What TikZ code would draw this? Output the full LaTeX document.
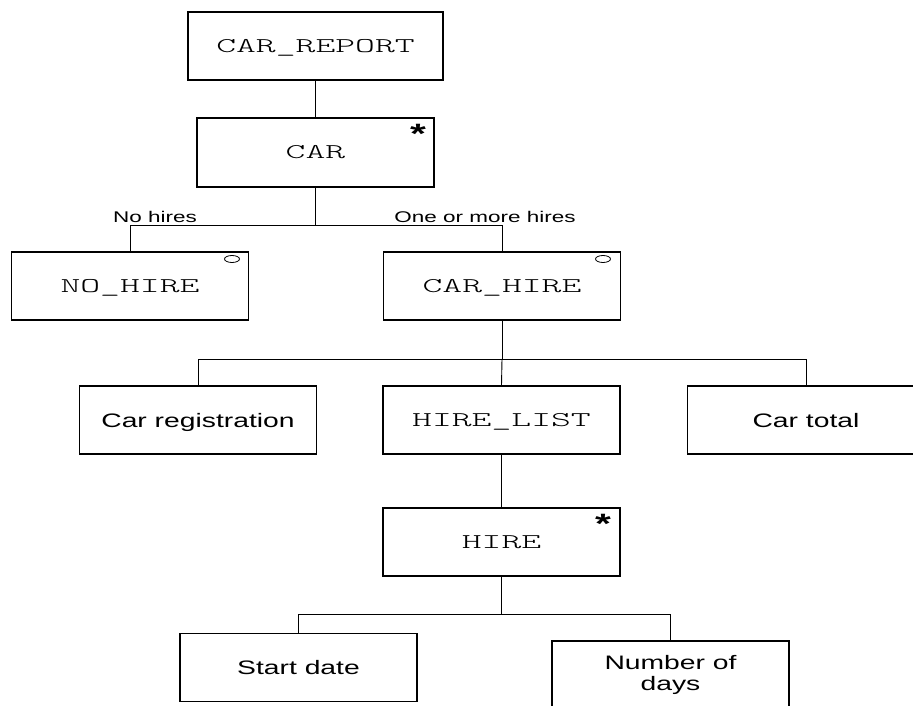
\documentclass[tikz,border=0pt]{standalone}
\usepackage{fontspec}
\usetikzlibrary{shapes.geometric}
\setmainfont{Liberation Sans}[FakeStretch=1.45]
\newfontfamily\boxmono{Latin Modern Mono Light}[FakeStretch=1.8]
\begin{document}
\begin{tikzpicture}[x=1pt,y=-1pt,
  box/.style={draw, line width=1.2pt, minimum width=237pt, minimum height=68pt, inner sep=0pt},
  monobox/.style={box, font=\boxmono\fontsize{21}{25}\selectfont, text height=12.8pt, text depth=0pt},
  sansbox/.style={box, font=\fontsize{19.5}{21}\selectfont, text height=14pt, text depth=0pt},
  conn/.style={line width=0.9pt},
  lbl/.style={font=\fontsize{15.5}{18}\selectfont, anchor=base, inner sep=0pt},
  star/.style={font=\bfseries\fontsize{28}{30}\selectfont, anchor=base, inner sep=0pt},
  opt/.style={draw, line width=0.8pt, ellipse, minimum width=15pt, minimum height=7pt, inner sep=0pt}]
\useasboundingbox (0,0) rectangle (913,706);
\clip (0,0) rectangle (913,706);
\fill[white] (0,0) rectangle (913,706);

\node[monobox, minimum width=255pt] (rep) at (315.5,46) {CAR\_REPORT};
\node[monobox, minimum height=69pt] (car) at (315.5,152.5) {CAR};
\node[star] (carstar) at (418,144) {*};

\node[monobox] (nohire) at (130,286) {NO\_HIRE};
\node[monobox] (carhire) at (502,286) {CAR\_HIRE};
\node[opt] (o1) at (232,259) {};
\node[opt] (o2) at (603,259) {};

\node[sansbox] (reg) at (198,420) {Car registration};
\node[monobox] (hl) at (501.5,420) {HIRE\_LIST};
\node[sansbox] (tot) at (806,420) {Car total};

\node[monobox] (hire) at (501.5,542) {HIRE};
\node[star] (hirestar) at (603,533) {*};

\node[sansbox] (sd) at (298.5,667.5) {Start date};
\node[box, font=\fontsize{19.5}{20.5}\selectfont, align=center] (nd) at (670.5,675) {Number of\\days};

\node[lbl] (l1) at (155,222) {No hires};
\node[lbl] (l2) at (485,222) {One or more hires};

\coordinate (j1) at (315.5,225);
\coordinate (j2) at (502,359);
\coordinate (j4) at (501.5,614);

\draw[conn] (rep) -- (car);
\draw[conn] (car.south) -- (j1);
\draw[conn] (j1) -| (nohire.north);
\draw[conn] (j1) -| (carhire.north);

\draw[conn] (carhire.south) -- (j2);
\draw[conn] (j2) -| (reg.north);
\draw[conn] (j2) -| (tot.north);
\draw[conn] (j2) -- (hl.north);

\draw[conn] (hl.south) -- (hire.north);

\draw[conn] (hire.south) -- (j4);
\draw[conn] (j4) -| (sd.north);
\draw[conn] (j4) -| (nd.north);
\end{tikzpicture}
\end{document}
